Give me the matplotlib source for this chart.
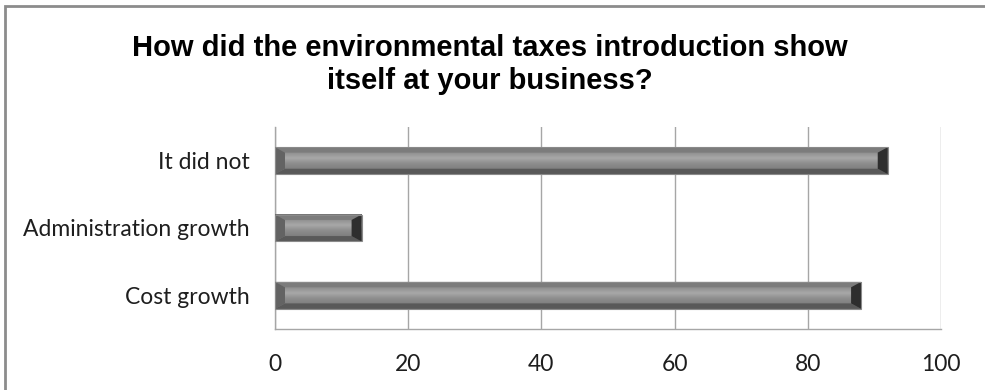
import matplotlib.pyplot as plt
import numpy as np
from matplotlib.patches import Polygon, Rectangle

categories = ['It did not', 'Administration growth', 'Cost growth']
values = [92, 13, 88]
xticks = [0, 20, 40, 60, 80, 100]
title = 'How did the environmental taxes introduction show\nitself at your business?'

fig = plt.figure(figsize=(9.85, 3.9), dpi=100)
fig.patch.set_facecolor('white')

# outer chart frame (left/top edges visible, runs off the right and bottom)
fig.add_artist(Rectangle((4.5 / 985, -0.1), 1.2, 1.1 - 6.5 / 390, transform=fig.transFigure,
                         fill=False, edgecolor='#8c8c8c', linewidth=2.0))

fig.text(0.4975, 0.835, title, ha='center', va='center', fontsize=21, fontweight='bold',
         family='Liberation Sans', color='#000000', linespacing=1.2)

ax = fig.add_axes([275 / 985, 1 - 329 / 390, 666 / 985, 202 / 390])

# vertical shading of the bar face (top -> bottom)
stops = np.array([0.0, 0.2, 0.4, 0.6, 1.0])
shades = np.array([0.46, 0.56, 0.66, 0.56, 0.44])
prof = np.interp(np.linspace(0, 1, 40), stops, shades)
face = np.repeat(prof[:, None, None], 3, axis=2)

h = 0.4
dx = 1.5
for i, v in enumerate(values):
    top, bot = i - h / 2, i + h / 2
    dy = h * 0.2
    ax.imshow(face, extent=(0, v, bot, top), origin='upper', aspect='auto',
              interpolation='bilinear', zorder=3)
    # bevels around the bar ends and edges
    ax.add_patch(Polygon([(0, top), (v, top), (v - dx, top + dy), (dx, top + dy)],
                         closed=True, facecolor='#7c7c7c', edgecolor='none', zorder=4))
    ax.add_patch(Polygon([(0, bot), (v, bot), (v - dx, bot - dy), (dx, bot - dy)],
                         closed=True, facecolor='#595959', edgecolor='none', zorder=4))
    ax.add_patch(Polygon([(0, top), (dx, top + dy), (dx, bot - dy), (0, bot)],
                         closed=True, facecolor='#636363', edgecolor='none', zorder=4))
    ax.add_patch(Polygon([(v, top), (v - dx, top + dy), (v - dx, bot - dy), (v, bot)],
                         closed=True, facecolor='#2e2e2e', edgecolor='none', zorder=4))
    ax.add_patch(Rectangle((0, top), v, h, fill=False, edgecolor='#8a8a8a',
                           linewidth=0.8, zorder=5))

ax.set_xlim(0, 100)
ax.set_ylim(2.5, -0.5)
ax.set_xticks(xticks)
ax.set_xticklabels([str(t) for t in xticks])
ax.set_yticks(range(len(categories)))
ax.set_yticklabels(categories)
ax.tick_params(length=0, labelsize=16.5, labelcolor='#1e1e1e')
for lab in ax.get_xticklabels() + ax.get_yticklabels():
    lab.set_family('Lato')
ax.tick_params(axis='y', pad=18)
ax.tick_params(axis='x', pad=18)

ax.grid(axis='x', color='#a6a6a6', linewidth=1.0, zorder=0)
ax.set_axisbelow(True)
for side in ['top', 'right']:
    ax.spines[side].set_visible(False)
for side in ['left', 'bottom']:
    ax.spines[side].set_color('#a6a6a6')
    ax.spines[side].set_linewidth(1.0)

fig.savefig('out.png', dpi=100, facecolor='white')
